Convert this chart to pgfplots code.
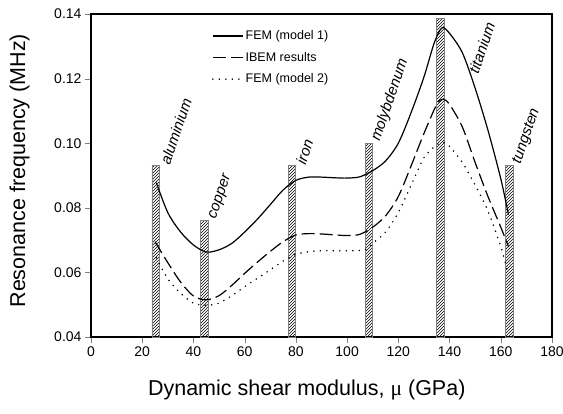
\documentclass[border=0pt]{standalone}
\usepackage{pgfplots}
\pgfplotsset{compat=1.18}
\usetikzlibrary{patterns}
\usepackage{fontspec}
\setmainfont{Liberation Sans}
\newfontfamily\serifmu{Liberation Serif}
\begin{document}
\begin{tikzpicture}
\begin{axis}[
    scale only axis,
    width=461pt, height=323pt,
    xmin=0, xmax=180, ymin=0.04, ymax=0.14,
    xtick={0,20,...,180},
    ytick={0.04,0.06,...,0.141},
    yticklabel style={/pgf/number format/.cd, fixed, fixed zerofill, precision=2},
    /pgf/number format/assume math mode=true,
    tick label style={font=\fontsize{14}{16}\selectfont},
    xlabel={Dynamic shear modulus, {\serifmu μ} (GPa)},
    ylabel={Resonance frequency (MHz)},
    label style={font=\fontsize{21.5}{24}\selectfont},
    xlabel style={at={(axis description cs:0.468,-0.164)}, anchor=center},
    ylabel style={at={(axis description cs:-0.155,0.515)}, anchor=center},
    tick align=outside,
    xtick pos=bottom, ytick pos=left,
    major tick length=6pt,
    axis line style={line width=1.2pt},
    legend style={at={(0.262,0.955)}, anchor=north west, draw=none, fill=none,
                  font=\fontsize{12.5}{14}\selectfont, row sep=7pt,
                  inner sep=0pt},
    legend cell align=left,
    legend image code/.code={\draw[#1] (0pt,0pt) -- (30pt,0pt);},
]
\coordinate (bbsw) at (rel axis cs:0,0);
\coordinate (bbne) at (rel axis cs:1,1);
% element bars
\addplot[ybar, bar width=3, draw=gray, line width=0.9pt,
         pattern=north east lines, forget plot]
  coordinates {
    (25.3,0.093) (44.4,0.076) (78.5,0.093)
    (108.5,0.100) (136.5,0.1385) (163.5,0.093)
  };

% FEM model 1
\addplot[black, line width=1.2pt, smooth, tension=0.5] coordinates {
  (25.5,0.0878) (30,0.0785) (35,0.0725) (40,0.0685) (45,0.0663) (50,0.0670)
  (55,0.0690) (60,0.0725) (65,0.0765) (70,0.0810) (75,0.0855) (80,0.0885)
  (85,0.0895) (90,0.0895) (95,0.0893) (100,0.0892) (105,0.0896) (110,0.0915)
  (115,0.0945) (120,0.1000) (125,0.1095) (130,0.1205) (134,0.1310)
  (137,0.1357) (140,0.1340) (145,0.1280) (150,0.1170) (155,0.1040)
  (160,0.0890) (163,0.0779)
};
\addlegendentry{FEM (model 1)}

% IBEM
\addplot[black, line width=1.2pt, dash pattern=on 13pt off 5pt, smooth, tension=0.5] coordinates {
  (25,0.0695) (30,0.0630) (35,0.0570) (40,0.0527) (45,0.0515) (50,0.0528)
  (55,0.0560) (60,0.0597) (65,0.0632) (70,0.0665) (75,0.0695) (80,0.0716)
  (85,0.0720) (90,0.0719) (100,0.0714) (105,0.0718) (110,0.0740) (115,0.0775)
  (120,0.0835) (125,0.0930) (130,0.1030) (135,0.1120) (137.5,0.1136)
  (140,0.1120) (145,0.1050) (150,0.0940) (155,0.0835) (160,0.0740) (163,0.0680)
};
\addlegendentry{IBEM results}

% FEM model 2
\addplot[black, line width=1.7pt, dash pattern=on 0pt off 6.5pt, line cap=round, smooth, tension=0.5] coordinates {
  (25.5,0.0645) (30,0.0580) (35,0.0535) (40,0.0505) (45,0.0498) (50,0.0505)
  (55,0.0528) (60,0.0556) (65,0.0582) (70,0.0608) (75,0.0635) (80,0.0656)
  (85,0.0664) (90,0.0667) (100,0.0667) (107,0.0670) (110,0.0690) (115,0.0725)
  (120,0.0785) (125,0.0870) (130,0.0955) (135,0.0995) (137.5,0.1003)
  (140,0.0990) (145,0.0940) (150,0.0870) (155,0.0790) (160,0.0680) (163,0.0593)
};
\addlegendentry{FEM (model 2)}

\begin{scope}[every node/.style={font=\fontsize{15}{17}\selectfont\itshape,
                                  rotate=71, anchor=south west, inner sep=0.5pt}]
\node at (axis cs:31.0,0.0928) {aluminium};
\node at (axis cs:50.0,0.0758) {copper};
\node at (axis cs:84.0,0.0928) {iron};
\node at (axis cs:114.0,0.0998) {molybdenum};
\node at (axis cs:151.5,0.1210) {titanium};
\node at (axis cs:169.0,0.0928) {tungsten};
\end{scope}
\end{axis}
\pgfresetboundingbox
\path ([shift={(-91pt,-76pt)}]bbsw) rectangle ([shift={(11pt,14pt)}]bbne);
\end{tikzpicture}
\end{document}
